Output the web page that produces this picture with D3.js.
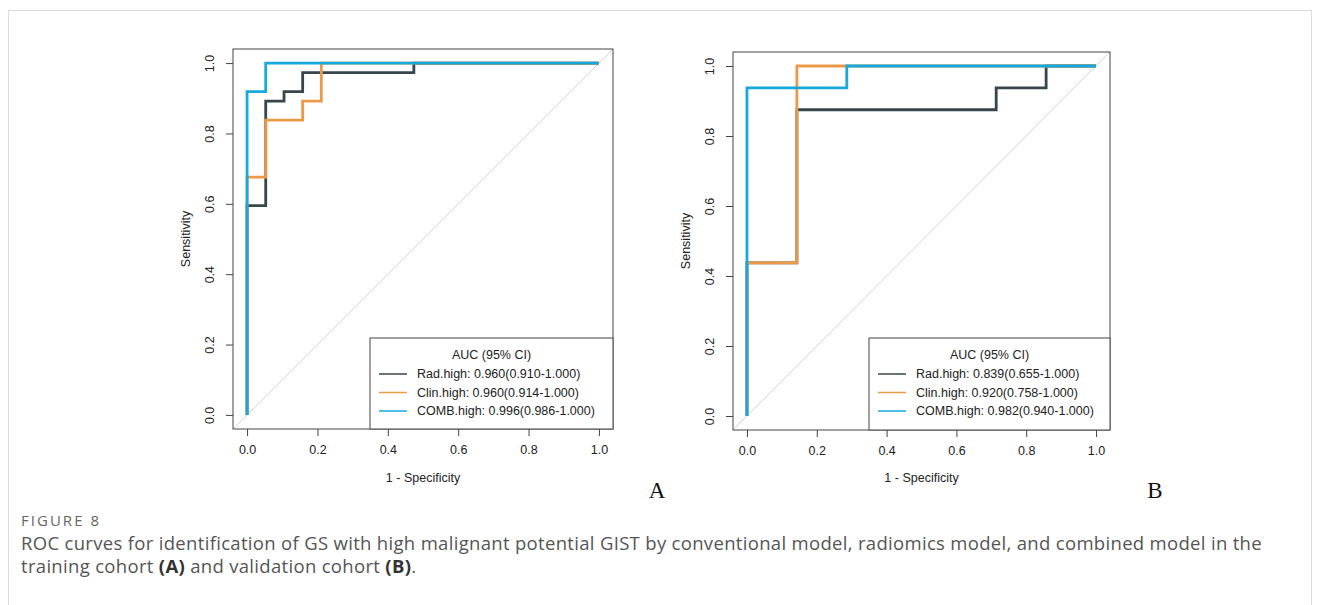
<!DOCTYPE html>
<html>
<head>
<meta charset="utf-8">
<script src="https://cdn.jsdelivr.net/npm/d3@7"></script>
<style>
  body { margin: 0; background: #fff; }
  svg { display: block; }
</style>
</head>
<body>
<script>
// ROC vertices as [1 - specificity, sensitivity]
const trainRad = [[0, 0], [0, 0.595], [0.053, 0.892], [0.105, 0.919], [0.158, 0.973], [0.474, 1], [1, 1]];
const trainClin = [[0, 0], [0, 0.676], [0.053, 0.838], [0.158, 0.892], [0.211, 1], [1, 1]];
const trainComb = [[0, 0], [0, 0.919], [0.053, 1], [1, 1]];

const validRad = [[0, 0], [0, 0.4375], [0.143, 0.875], [0.714, 0.9375], [0.857, 1], [1, 1]];
const validClin = [[0, 0], [0, 0.4375], [0.143, 1], [1, 1]];
const validComb = [[0, 0], [0, 0.9375], [0.286, 1], [1, 1]];

const modelNames = ["Rad.high", "Clin.high", "COMB.high"];
const aucTrain = ["0.960(0.910-1.000)", "0.960(0.914-1.000)", "0.996(0.986-1.000)"];
const aucValid = ["0.839(0.655-1.000)", "0.920(0.758-1.000)", "0.982(0.940-1.000)"];
const ticks = [0, 0.2, 0.4, 0.6, 0.8, 1.0];
const colors = ["#36464c", "#ec9a48", "#17a8dc"];

var width = 1320, height = 605;
var svg = d3.select("body").append("svg").attr("width", width).attr("height", height);

svg.append("rect").attr("width", width).attr("height", height).attr("fill", "#fff");
// card border
svg.append("rect")
	.attr("x", 8.5).attr("y", 10.5)
	.attr("width", 1303).attr("height", 640)
	.attr("fill", "none").attr("stroke", "#dcdcdc");

var panels = [
	{ box: [233, 613, 49, 429], curves: [trainRad, trainClin, trainComb], auc: aucTrain, legend: [370, 338], letter: "A", letterX: 657 },
	{ box: [733, 1110, 52, 430], curves: [validRad, validClin, validComb], auc: aucValid, legend: [869, 338], letter: "B", letterX: 1155 }
];

panels.forEach(function (p) {
	var [x0, x1, y0, y1] = p.box;
	var x = d3.scaleLinear().domain([-0.04, 1.04]).range([x0, x1]);
	var y = d3.scaleLinear().domain([-0.04, 1.04]).range([y1, y0]);
	var g = svg.append("g");

	var clipId = "clip" + p.letter;
	g.append("clipPath").attr("id", clipId)
		.append("rect").attr("x", x0).attr("y", y0).attr("width", x1 - x0).attr("height", y1 - y0);

	// reference diagonal
	g.append("line")
		.attr("clip-path", "url(#" + clipId + ")")
		.attr("x1", x(-0.04)).attr("y1", y(-0.04))
		.attr("x2", x(1.04)).attr("y2", y(1.04))
		.attr("stroke", "#d2d2d2").attr("stroke-width", 1);

	// axes
	var xAxis = d3.axisBottom(x).tickValues(ticks).tickFormat(d3.format(".1f")).tickSize(7).tickPadding(9);
	var gx = g.append("g").attr("transform", "translate(0," + y1 + ")").call(xAxis);
	gx.select(".domain").remove();
	gx.selectAll("line").attr("stroke", "#444");
	gx.selectAll("text").attr("font-family", "Liberation Sans, Arial, sans-serif").attr("font-size", 12.5).attr("fill", "#222");

	var yAxis = d3.axisLeft(y).tickValues(ticks).tickFormat(d3.format(".1f")).tickSize(7).tickPadding(0);
	var gy = g.append("g").attr("transform", "translate(" + x0 + ",0)").call(yAxis);
	gy.select(".domain").remove();
	gy.selectAll("line").attr("stroke", "#444");
	gy.selectAll("text")
		.attr("font-family", "Liberation Sans, Arial, sans-serif").attr("font-size", 12.5).attr("fill", "#222")
		.attr("x", null).attr("dy", null)
		.attr("text-anchor", "middle")
		.attr("transform", "translate(-23,0) rotate(-90)")
		.attr("dominant-baseline", "central");

	// curves
	var line = d3.line().x(d => x(d[0])).y(d => y(d[1])).curve(d3.curveStepAfter);
	p.curves.forEach(function (c, i) {
		g.append("path").datum(c)
			.attr("d", line)
			.attr("fill", "none")
			.attr("stroke", colors[i])
			.attr("stroke-width", 2.8);
	});

	// plot box
	g.append("rect")
		.attr("x", x0).attr("y", y0).attr("width", x1 - x0).attr("height", y1 - y0)
		.attr("fill", "none").attr("stroke", "#444").attr("stroke-width", 1);

	// axis titles
	g.append("text")
		.attr("x", (x(0) + x(1)) / 2).attr("y", 482)
		.attr("text-anchor", "middle")
		.attr("font-family", "Liberation Sans, Arial, sans-serif").attr("font-size", 12.5).attr("fill", "#222")
		.text("1 - Specificity");
	g.append("text")
		.attr("transform", "translate(" + (x0 - 43) + "," + (y(0) + y(1)) / 2 + ") rotate(-90)")
		.attr("text-anchor", "middle")
		.attr("font-family", "Liberation Sans, Arial, sans-serif").attr("font-size", 12.5).attr("fill", "#222")
		.text("Sensitivity");

	// legend
	var [lx, ly] = p.legend;
	var lg = g.append("g");
	lg.append("rect")
		.attr("x", lx).attr("y", ly).attr("width", x1 - lx).attr("height", y1 - ly)
		.attr("fill", "#fff").attr("stroke", "#444").attr("stroke-width", 1);
	lg.append("text")
		.attr("x", (lx + x1) / 2).attr("y", ly + 21)
		.attr("text-anchor", "middle")
		.attr("font-family", "Liberation Sans, Arial, sans-serif").attr("font-size", 12.5).attr("fill", "#222")
		.text("AUC (95% CI)");
	modelNames.forEach(function (name, i) {
		var ry = ly + 36 + i * 18.5;
		lg.append("line")
			.attr("x1", lx + 9).attr("x2", lx + 37)
			.attr("y1", ry).attr("y2", ry)
			.attr("stroke", colors[i]).attr("stroke-width", 1.5);
		lg.append("text")
			.attr("x", lx + 47).attr("y", ry)
			.attr("dominant-baseline", "central")
			.attr("font-family", "Liberation Sans, Arial, sans-serif").attr("font-size", 12.5).attr("fill", "#222")
			.text(name + ": " + p.auc[i]);
	});

	// panel letter
	svg.append("text")
		.attr("x", p.letterX).attr("y", 498)
		.attr("text-anchor", "middle")
		.attr("font-family", "Liberation Serif, Times New Roman, serif").attr("font-size", 23).attr("fill", "#111")
		.text(p.letter);
});

// caption; letter spacing nudged so the lines span the same width as the reference
function fitSpacing(sel, targetWidth) {
	var node = sel.node();
	var n = node.getNumberOfChars();
	var w = node.getComputedTextLength();
	sel.attr("letter-spacing", ((targetWidth - w) / n).toFixed(3));
}

var fig = svg.append("text")
	.attr("x", 21).attr("y", 526)
	.attr("font-family", "Open Sans, sans-serif").attr("font-size", 15).attr("fill", "#666")
	.text("FIGURE 8");
fitSpacing(fig, 80);

var cap1 = svg.append("text")
	.attr("x", 21).attr("y", 550)
	.attr("font-family", "Open Sans, sans-serif").attr("font-size", 18.5).attr("fill", "#555")
	.text("ROC curves for identification of GS with high malignant potential GIST by conventional model, radiomics model, and combined model in the");
fitSpacing(cap1, 1241);

var cap2 = svg.append("text")
	.attr("x", 21).attr("y", 573)
	.attr("font-family", "Open Sans, sans-serif").attr("font-size", 18.5).attr("fill", "#555")
	.attr("letter-spacing", cap1.attr("letter-spacing"));
cap2.append("tspan").text("training cohort ");
cap2.append("tspan").attr("font-weight", "bold").attr("fill", "#333").text("(A)");
cap2.append("tspan").text(" and validation cohort ");
cap2.append("tspan").attr("font-weight", "bold").attr("fill", "#333").text("(B)");
cap2.append("tspan").text(".");
</script>
</body>
</html>
